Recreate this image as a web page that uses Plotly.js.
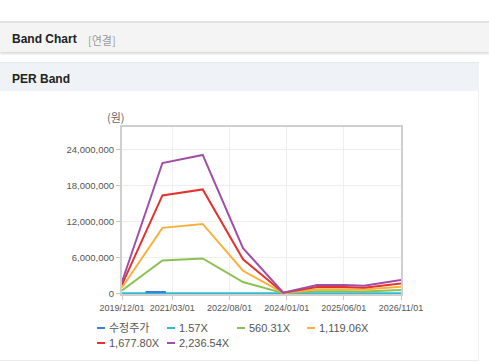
<!DOCTYPE html>
<html>
<head>
<meta charset="utf-8">
<script src="https://cdn.plot.ly/plotly-3.0.1.min.js"></script>
<style>
  html, body { margin:0; padding:0; background:#fff; width:489px; height:362px; overflow:hidden; }
  #hdr { position:absolute; left:0; top:21px; width:489px; height:29px; background:#f4f4f4;
         border-top:2px solid #e2e2e2; box-shadow:0 2px 2px #dcdcdc; }
  #hdr .t { position:absolute; left:12px; top:9px; font:bold 12px "Liberation Sans", Arial, sans-serif; color:#222; }
  #hdr .s { position:absolute; left:88px; top:9px; font:11px "Noto Sans CJK KR", sans-serif; color:#9a9a9a; }
  #per { position:absolute; left:0; top:62px; width:479px; height:28px; background:#eff2f7; border-top:1px solid #e5e8ee; }
  #per .t { position:absolute; left:12px; top:9px; font:bold 12px "Liberation Sans", Arial, sans-serif; color:#222; }
  #box { position:absolute; left:0; top:91px; width:478px; height:269px; border-right:1px solid #f0f0f0; border-bottom:1px solid #ececec; }
  #chart { position:absolute; left:0; top:0; width:489px; height:362px; }
</style>
</head>
<body>
<div id="hdr"><span class="t">Band Chart</span><span class="s">[연결]</span></div>
<div id="per"><span class="t">PER Band</span></div>
<div id="box"></div>
<div id="chart"></div>
<script>
// ---- data ----
const bandDates = ['2019-12-01','2020-12-01','2021-12-01','2022-12-01','2023-12-01','2024-10-01','2025-06-01','2025-12-01','2026-11-01'];
const band157  = [1350, 15200, 16200, 5300, 70, 970, 970, 880, 1540];
const band560  = [480000, 5450000, 5800000, 1880000, 30000, 350000, 350000, 310000, 550000];
const band1119 = [960000, 10900000, 11550000, 3750000, 50000, 690000, 690000, 620000, 1100000];
const band1677 = [1440000, 16300000, 17300000, 5650000, 80000, 1040000, 1040000, 940000, 1650000];
const band2236 = [1920000, 21700000, 23050000, 7500000, 100000, 1380000, 1380000, 1250000, 2200000];
const priceDates = ['2020-07-01','2020-09-01','2020-11-01','2021-01-01'];
const priceVals  = [210000, 220000, 225000, 215000];
const seriesNames = ['수정주가','1.57X','560.31X','1,119.06X','1,677.80X','2,236.54X'];
const seriesColors = ['#3b7dd8','#2fbcd2','#8cc152','#fbb03b','#e2332f','#a04ea8'];
const tickDates = ['2019-12-01','2021-03-01','2022-08-01','2024-01-01','2025-06-01','2026-11-01'];
const tickLabels = ['2019/12/01','2021/03/01','2022/08/01','2024/01/01','2025/06/01','2026/11/01'];
const yTicks = [0, 6000000, 12000000, 18000000, 24000000];
const yLabels = ['0','6,000,000','12,000,000','18,000,000','24,000,000'];

const seriesX = [priceDates, bandDates, bandDates, bandDates, bandDates, bandDates];
const seriesY = [priceVals, band157, band560, band1119, band1677, band2236];

// draw order: bands first, price on top
const order = [1,2,3,4,5,0];
const traces = order.map(i => ({
  type:'scatter', mode:'lines', x: seriesX[i], y: seriesY[i], name: seriesNames[i],
  line:{color: seriesColors[i], width:2}, showlegend:false, hoverinfo:'skip'
}));

// geometry helpers (pixel -> paper)
const L = 122, R = 88, T = 127, B = 68, W = 489, H = 362;
const pw = W - L - R, ph = H - T - B;
const px = x => (x - L) / pw;
const py = y => (H - B - y) / ph;

const shapes = [];
const annotations = [];
seriesNames.forEach((nm, i) => {
  const lx = 97 + 70 * (i % 4);
  const ly = 328 + 15 * Math.floor(i / 4);
  shapes.push({type:'line', xref:'paper', yref:'paper', x0:px(lx), x1:px(lx+8), y0:py(ly), y1:py(ly),
               line:{color:seriesColors[i], width:2}});
  annotations.push({xref:'paper', yref:'paper', x:px(lx+10), y:py(ly), xanchor:'left', yanchor:'middle',
                    showarrow:false, text:nm, font:{size:11, color:'#555', family:'"Liberation Sans", Arial, "Noto Sans CJK KR", sans-serif'}});
});
annotations.push({xref:'paper', yref:'paper', x:px(116), y:py(116.5), xanchor:'center', yanchor:'middle',
                  showarrow:false, text:'(원)', font:{size:11, color:'#666', family:'"Noto Sans CJK KR", sans-serif'}});

const layout = {
  width:W, height:H, margin:{l:L, r:R, t:T, b:B, pad:0},
  paper_bgcolor:'rgba(0,0,0,0)', plot_bgcolor:'#fff', showlegend:false,
  font:{family:'"Liberation Sans", Arial, sans-serif', color:'#555'},
  xaxis:{type:'date', range:['2019-12-01','2026-11-01'], tickvals:tickDates, ticktext:tickLabels,
         showgrid:true, gridcolor:'#eeeeee', gridwidth:1, showline:true, linecolor:'#cfcfcf', linewidth:2, mirror:true,
         ticks:'outside', ticklen:4, tickcolor:'#c8c8c8', tickfont:{size:9, color:'#555'}, zeroline:false, fixedrange:true},
  yaxis:{range:[-120000, 27700000], tickvals:yTicks, ticktext:yLabels,
         showgrid:true, gridcolor:'#eeeeee', gridwidth:1, showline:true, linecolor:'#cfcfcf', linewidth:2, mirror:true,
         ticks:'outside', ticklen:4, tickcolor:'#c8c8c8', tickfont:{size:9.5, color:'#555'}, zeroline:false, fixedrange:true},
  shapes:shapes, annotations:annotations
};
Plotly.newPlot('chart', traces, layout, {staticPlot:true, displayModeBar:false});
</script>
</body>
</html>
